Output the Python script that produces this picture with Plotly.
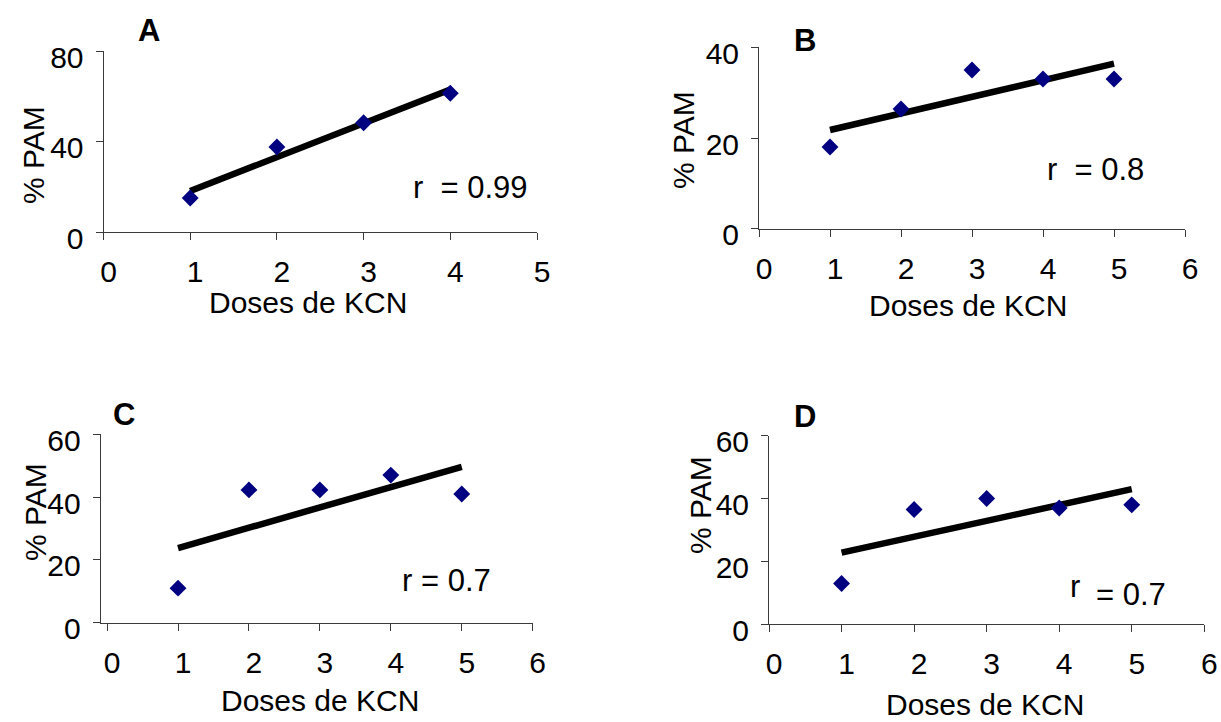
import numpy as np
import plotly.graph_objects as go

W, H = 1221, 722

# Doses and % PAM for each panel
doses_a = [1, 2, 3, 4]
pam_a = [15, 37.6, 48.3, 61.3]

doses_b = [1, 2, 3, 4, 5]
pam_b = [18, 26.4, 35, 33, 33]

doses_c = [1, 2, 3, 4, 5]
pam_c = [11, 42.3, 42.3, 47, 41]

doses_d = [1, 2, 3, 4, 5]
pam_d = [13, 36.5, 40, 37, 38]

panel_letters = ["A", "B", "C", "D"]
r_labels = ["r  = 0.99", "r  = 0.8", "r = 0.7", "= 0.7"]

x_tickvals_a = [0, 1, 2, 3, 4, 5]
x_tickvals_bcd = [0, 1, 2, 3, 4, 5, 6]
y_tickvals_a = [0, 40, 80]
y_tickvals_b = [0, 20, 40]
y_tickvals_cd = [0, 20, 40, 60]

FONT = "Liberation Sans, Arial, sans-serif"
NAVY = "#000080"
AXIS = "#3a3a3a"
FS = 30


def fx(px):
    return px / W


def fy(py):
    return 1 - py / H


panels = [
    # data, x range, y range, x ticks, y ticks, domain (pixels: left, right, top, bottom)
    (doses_a, pam_a, [0, 5], [0, 80], x_tickvals_a, y_tickvals_a, (103.5, 537, 51, 232)),
    (doses_b, pam_b, [0, 6], [0, 40], x_tickvals_bcd, y_tickvals_b, (759, 1185, 47.3, 228.7)),
    (doses_c, pam_c, [-0.09, 6], [0, 60], x_tickvals_bcd, y_tickvals_cd, (100.7, 532.7, 434.3, 622.7)),
    (doses_d, pam_d, [0, 6], [0, 60], x_tickvals_bcd, y_tickvals_cd, (769, 1204.3, 435.7, 624.3)),
]

fig = go.Figure()
layout = {}

for i, (xs, ys, xr, yr, xt, yt, (l, r, t, b)) in enumerate(panels, start=1):
    suffix = "" if i == 1 else str(i)
    xa, ya = "x" + suffix, "y" + suffix

    # least-squares trend line over the dose span
    slope, intercept = np.polyfit(xs, ys, 1)
    xfit = [min(xs), max(xs)]
    yfit = [slope * v + intercept for v in xfit]

    fig.add_trace(go.Scatter(
        x=xfit, y=yfit, mode="lines",
        line=dict(color="black", width=6.5),
        xaxis=xa, yaxis=ya, showlegend=False, hoverinfo="skip",
    ))
    fig.add_trace(go.Scatter(
        x=xs, y=ys, mode="markers",
        marker=dict(symbol="diamond", size=13, color=NAVY),
        xaxis=xa, yaxis=ya, showlegend=False,
    ))

    common = dict(
        showgrid=False, zeroline=False, automargin=False,
        showline=True, linecolor=AXIS, linewidth=1,
        ticks="outside", ticklen=7, tickcolor=AXIS, tickwidth=1,
        tickfont=dict(family=FONT, size=FS, color="black"),
        ticklabelstandoff=6, fixedrange=True,
    )
    layout["xaxis" + suffix] = dict(
        domain=[fx(l), fx(r)], range=xr, anchor=ya,
        tickvals=xt, ticktext=[str(v) for v in xt],
        ticklabelshift=5, **common,
    )
    layout["yaxis" + suffix] = dict(
        domain=[fy(b), fy(t)], range=yr, anchor=xa,
        tickvals=yt, ticktext=[str(v) for v in yt],
        ticklabelshift=6, **common,
    )

annotations = []


def text(px, py, s, size=FS, bold=False, angle=0, xanchor="center"):
    annotations.append(dict(
        x=fx(px), y=fy(py), xref="paper", yref="paper",
        text="<b>%s</b>" % s if bold else s,
        showarrow=False, textangle=angle,
        xanchor=xanchor, yanchor="middle",
        font=dict(family=FONT, size=size, color="black"),
    ))


# panel letters
for (px, py), s in zip([(149, 30), (805, 40), (124, 414), (805, 416)], panel_letters):
    text(px, py, s, size=31, bold=True)

# x-axis titles
for px, py in [(308, 302), (968, 306), (320, 700), (985, 704)]:
    text(px, py, "Doses de KCN")

# y-axis titles
for px, py in [(33, 155), (683, 140), (35, 512), (700, 505)]:
    text(px, py, "% PAM", angle=-90)

# correlation coefficients
text(411, 188, r_labels[0], size=31, xanchor="left")
text(1045, 170, r_labels[1], size=31, xanchor="left")
text(400, 580, r_labels[2], size=31, xanchor="left")
text(1068, 586, "r", size=31, xanchor="left")
text(1094, 594, r_labels[3], size=31, xanchor="left")

fig.update_layout(
    **layout,
    annotations=annotations,
    width=W, height=H,
    margin=dict(l=0, r=0, t=0, b=0, pad=0, autoexpand=False),
    paper_bgcolor="white", plot_bgcolor="white",
    showlegend=False,
)

fig.write_html("out.html", config={"displayModeBar": False})
